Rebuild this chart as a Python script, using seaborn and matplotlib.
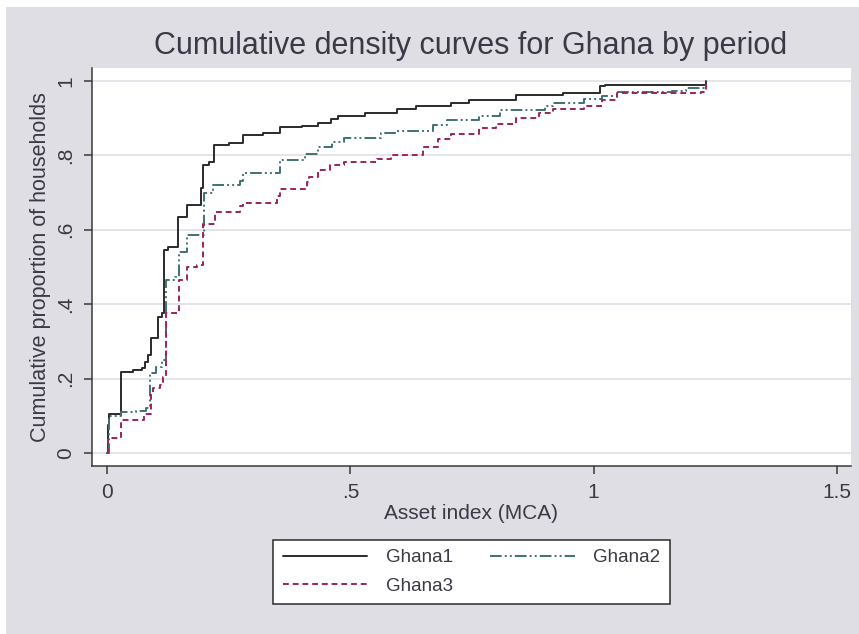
import numpy as np
import pandas as pd
import seaborn as sns
import matplotlib.pyplot as plt
from matplotlib.patches import Rectangle

# step points (asset index, cumulative share)
ghana1_x = [0.000, 0.001, 0.003, 0.028, 0.054, 0.071, 0.078, 0.085, 0.090, 0.105,
            0.112, 0.116, 0.125, 0.145, 0.164, 0.194, 0.198, 0.210, 0.219, 0.250,
            0.279, 0.321, 0.355, 0.400, 0.433, 0.461, 0.475, 0.530, 0.595, 0.634,
            0.707, 0.743, 0.840, 0.937, 1.013, 1.023, 1.231]
ghana1_y = [0.000, 0.075, 0.104, 0.217, 0.222, 0.229, 0.245, 0.263, 0.308, 0.366,
            0.375, 0.546, 0.555, 0.635, 0.667, 0.712, 0.774, 0.782, 0.828, 0.833,
            0.855, 0.860, 0.877, 0.880, 0.886, 0.898, 0.906, 0.913, 0.924, 0.934,
            0.941, 0.948, 0.962, 0.967, 0.986, 0.990, 1.000]

ghana2_x = [0.000, 0.003, 0.028, 0.060, 0.080, 0.088, 0.100, 0.112, 0.121, 0.140,
            0.147, 0.165, 0.199, 0.218, 0.273, 0.280, 0.356, 0.407, 0.433, 0.463,
            0.487, 0.562, 0.591, 0.670, 0.699, 0.764, 0.807, 0.901, 0.916, 0.980,
            1.017, 1.049, 1.161, 1.190, 1.231]
ghana2_y = [0.000, 0.100, 0.110, 0.113, 0.120, 0.214, 0.230, 0.250, 0.465, 0.473,
            0.541, 0.586, 0.698, 0.720, 0.732, 0.752, 0.789, 0.805, 0.822, 0.836,
            0.848, 0.860, 0.866, 0.882, 0.894, 0.907, 0.922, 0.932, 0.941, 0.951,
            0.960, 0.970, 0.973, 0.980, 1.000]

ghana3_x = [0.000, 0.001, 0.028, 0.075, 0.090, 0.095, 0.109, 0.115, 0.121, 0.148,
            0.165, 0.185, 0.198, 0.222, 0.273, 0.280, 0.349, 0.356, 0.410, 0.415,
            0.434, 0.458, 0.487, 0.555, 0.584, 0.649, 0.681, 0.707, 0.764, 0.800,
            0.840, 0.887, 0.916, 0.980, 1.017, 1.049, 1.220, 1.231]
ghana3_y = [0.000, 0.039, 0.089, 0.105, 0.160, 0.174, 0.183, 0.205, 0.376, 0.465,
            0.501, 0.505, 0.616, 0.649, 0.663, 0.673, 0.690, 0.711, 0.728, 0.741,
            0.760, 0.775, 0.783, 0.790, 0.802, 0.823, 0.844, 0.858, 0.873, 0.885,
            0.901, 0.913, 0.925, 0.934, 0.948, 0.967, 0.970, 1.000]

periods = ["Ghana1", "Ghana2", "Ghana3"]
colors = ["#2b2b2b", "#3f7272", "#9a2460"]
dash_styles = ["", (6, 1.6, 1, 1.6, 1, 1.6), (3, 2)]

x_ticks = [0, 0.5, 1, 1.5]
x_ticklabels = ["0", ".5", "1", "1.5"]
y_ticks = [0, 0.2, 0.4, 0.6, 0.8, 1]
y_ticklabels = ["0", ".2", ".4", ".6", ".8", "1"]

df = pd.concat([
    pd.DataFrame({"asset": ghana1_x, "share": ghana1_y, "period": "Ghana1"}),
    pd.DataFrame({"asset": ghana2_x, "share": ghana2_y, "period": "Ghana2"}),
    pd.DataFrame({"asset": ghana3_x, "share": ghana3_y, "period": "Ghana3"}),
], ignore_index=True)

sns.set_style("white")
plt.rcParams['font.family'] = ['Liberation Sans', 'DejaVu Sans']
text_col = "#3a3a46"
bg_col = "#dedee4"

fig = plt.figure(figsize=(8.59, 6.34), dpi=100)
fig.patch.set_facecolor("white")
fig.patches.append(Rectangle((6 / 859, 0), 1, 627 / 634, transform=fig.transFigure,
                             facecolor=bg_col, edgecolor="none", zorder=-10))

ax = fig.add_axes([92 / 859, 168 / 634, 759 / 859, 398 / 634])
ax.set_facecolor("white")

sns.lineplot(data=df, x="asset", y="share", hue="period", style="period",
             palette=colors, dashes=dash_styles, estimator=None, sort=False,
             drawstyle="steps-post", linewidth=1.4, legend=False, ax=ax)

ax.set_xlim(-0.031, 1.529)
ax.set_ylim(-0.035, 1.035)
ax.set_xticks(x_ticks)
ax.set_xticklabels(x_ticklabels)
ax.set_yticks(y_ticks)
ax.set_yticklabels(y_ticklabels, rotation=90, va="center")
ax.yaxis.grid(True, color="#e2e2e8", linewidth=1.3)
ax.set_axisbelow(True)

for s in ["top", "right"]:
    ax.spines[s].set_visible(False)
for s in ["left", "bottom"]:
    ax.spines[s].set_color("#3a3a3a")
    ax.spines[s].set_linewidth(1.1)

ax.tick_params(axis="both", direction="out", length=6, width=1.1, color="#3a3a3a",
               labelsize=15, labelcolor=text_col, pad=6)
ax.tick_params(axis="x", bottom=True)
ax.tick_params(axis="y", left=True)

ax.set_xlabel("Asset index (MCA)", fontsize=15, color=text_col, labelpad=2)
ax.set_ylabel("Cumulative proportion of households", fontsize=15.5, color=text_col, labelpad=4)
fig.text(0.548, 0.927, "Cumulative density curves for Ghana by period",
         ha="center", va="center", fontsize=22, color=text_col)

# matplotlib fills legend columns first, so reorder to get Ghana1 Ghana2 / Ghana3
lines = ax.get_lines()[:3]
handles = [lines[0], lines[2], lines[1]]
labels = [periods[0], periods[2], periods[1]]
leg = fig.legend(handles, labels, loc="center", bbox_to_anchor=(0.549, 0.098),
                 ncol=2, fontsize=13.5, frameon=True, fancybox=False, framealpha=1,
                 facecolor="white", handlelength=4.5, handletextpad=1.0,
                 columnspacing=2.0, borderpad=0.5, labelspacing=0.6)
leg.get_frame().set_edgecolor("#2b2b2b")
leg.get_frame().set_linewidth(1.1)
for t in leg.get_texts():
    t.set_color(text_col)

fig.savefig("out.png", dpi=100, facecolor=fig.get_facecolor())
